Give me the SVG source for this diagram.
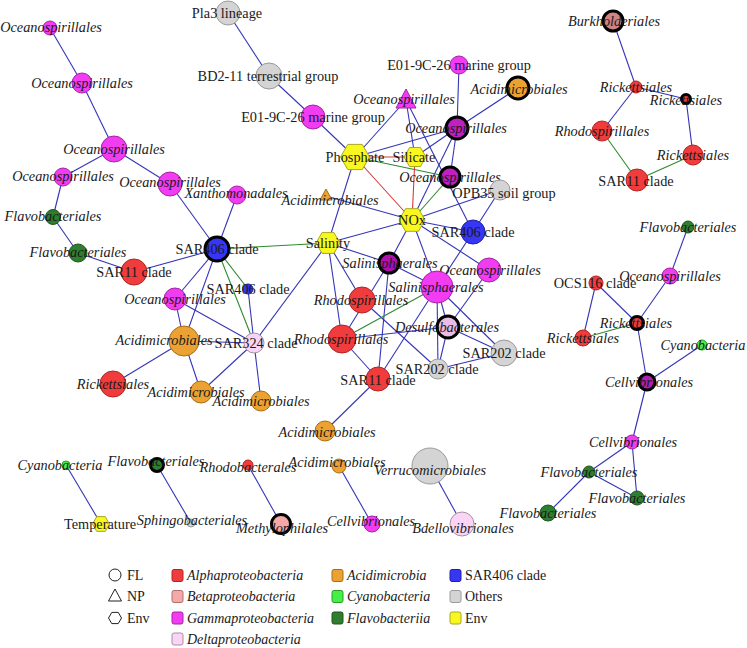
<svg xmlns="http://www.w3.org/2000/svg" width="747" height="648" viewBox="0 0 747 648">
<style>
.e{stroke:#3535b8;stroke-width:1.1;fill:none}
.eg{stroke:#2e8a2e;stroke-width:1.1;fill:none}
.er{stroke:#d43c3c;stroke-width:1.1;fill:none}
text{font-family:"Liberation Serif","Times New Roman",serif;font-size:14.3px;text-anchor:middle;fill:#1a1a1a}
.i{font-style:italic}
.lg{font-size:14px;text-anchor:start}
.alpha{fill:#f03c3c;stroke:#b02424}
.beta{fill:#f4a8a8;stroke:#b07070}
.gamma{fill:#f23cf2;stroke:#a424a4}
.gdark{fill:#c020c0;stroke:#000;stroke-width:3}
.delta{fill:#fad4f4;stroke:#a890a4}
.acid{fill:#eba233;stroke:#a86e14}
.cyan{fill:#48ee48;stroke:#22a022}
.flavo{fill:#2f7d2f;stroke:#1c561c}
.sar{fill:#3636f4;stroke:#2020a0}
.other{fill:#d4d4d4;stroke:#9a9a9a}
.env{fill:#f8f820;stroke:#a8a820}
.bk{stroke:#000;stroke-width:3}
</style>
<rect width="747" height="648" fill="#fff"/>
<g id="edges">
<line class="e" x1="50" y1="28" x2="82" y2="83"/>
<line class="e" x1="82" y1="83" x2="114" y2="149"/>
<line class="e" x1="114" y1="149" x2="63" y2="177"/>
<line class="e" x1="114" y1="149" x2="170" y2="184"/>
<line class="e" x1="63" y1="177" x2="53" y2="217"/>
<line class="e" x1="53" y1="217" x2="78" y2="253"/>
<line class="e" x1="78" y1="253" x2="134" y2="272"/>
<line class="e" x1="134" y1="272" x2="217" y2="249"/>
<line class="e" x1="170" y1="184" x2="217" y2="249"/>
<line class="e" x1="237" y1="195" x2="217" y2="249"/>
<line class="e" x1="217" y1="249" x2="175" y2="299"/>
<line class="e" x1="217" y1="249" x2="184" y2="341"/>
<line class="e" x1="175" y1="299" x2="184" y2="341"/>
<line class="e" x1="175" y1="299" x2="254" y2="343"/>
<line class="e" x1="248" y1="289" x2="254" y2="343"/>
<line class="e" x1="184" y1="341" x2="254" y2="343"/>
<line class="e" x1="184" y1="341" x2="113" y2="384"/>
<line class="e" x1="184" y1="341" x2="201" y2="392"/>
<line class="e" x1="201" y1="392" x2="254" y2="343"/>
<line class="e" x1="254" y1="343" x2="261" y2="401"/>
<line class="e" x1="254" y1="343" x2="328" y2="243"/>
<line class="e" x1="228" y1="13" x2="269" y2="76"/>
<line class="e" x1="269" y1="76" x2="313" y2="117"/>
<line class="e" x1="313" y1="117" x2="355" y2="157"/>
<line class="e" x1="459" y1="65" x2="457" y2="128"/>
<line class="e" x1="518" y1="88" x2="457" y2="128"/>
<line class="e" x1="355" y1="157" x2="406" y2="100"/>
<line class="e" x1="415" y1="157" x2="406" y2="100"/>
<line class="e" x1="355" y1="157" x2="457" y2="128"/>
<line class="e" x1="415" y1="157" x2="457" y2="128"/>
<line class="e" x1="457" y1="128" x2="450" y2="177"/>
<line class="e" x1="457" y1="128" x2="412" y2="220"/>
<line class="e" x1="406" y1="100" x2="473" y2="232"/>
<line class="e" x1="328" y1="243" x2="355" y2="157"/>
<line class="e" x1="500" y1="190" x2="412" y2="220"/>
<line class="e" x1="500" y1="190" x2="473" y2="232"/>
<line class="e" x1="412" y1="220" x2="473" y2="232"/>
<line class="e" x1="412" y1="220" x2="326" y2="196"/>
<line class="e" x1="412" y1="220" x2="328" y2="243"/>
<line class="e" x1="412" y1="220" x2="389" y2="263"/>
<line class="e" x1="412" y1="220" x2="437" y2="287"/>
<line class="e" x1="412" y1="220" x2="489" y2="270"/>
<line class="e" x1="328" y1="243" x2="389" y2="263"/>
<line class="e" x1="328" y1="243" x2="362" y2="300"/>
<line class="e" x1="328" y1="243" x2="342" y2="339"/>
<line class="e" x1="389" y1="263" x2="437" y2="287"/>
<line class="e" x1="389" y1="263" x2="378" y2="379"/>
<line class="e" x1="389" y1="263" x2="342" y2="339"/>
<line class="e" x1="473" y1="232" x2="437" y2="287"/>
<line class="e" x1="489" y1="270" x2="448" y2="327"/>
<line class="e" x1="437" y1="287" x2="448" y2="327"/>
<line class="e" x1="437" y1="287" x2="438" y2="369"/>
<line class="e" x1="437" y1="287" x2="378" y2="379"/>
<line class="e" x1="437" y1="287" x2="504" y2="353"/>
<line class="e" x1="362" y1="300" x2="438" y2="369"/>
<line class="e" x1="448" y1="327" x2="342" y2="339"/>
<line class="e" x1="448" y1="327" x2="438" y2="369"/>
<line class="e" x1="448" y1="327" x2="504" y2="353"/>
<line class="e" x1="504" y1="353" x2="438" y2="369"/>
<line class="e" x1="342" y1="339" x2="378" y2="379"/>
<line class="e" x1="378" y1="379" x2="325" y2="431"/>
<line class="e" x1="613" y1="21" x2="636" y2="87"/>
<line class="e" x1="636" y1="87" x2="686" y2="99"/>
<line class="e" x1="636" y1="87" x2="602" y2="131"/>
<line class="e" x1="686" y1="99" x2="693" y2="155"/>
<line class="e" x1="688" y1="227" x2="670" y2="276"/>
<line class="e" x1="670" y1="276" x2="637" y2="323"/>
<line class="e" x1="596" y1="283" x2="637" y2="323"/>
<line class="e" x1="596" y1="283" x2="583" y2="338"/>
<line class="e" x1="637" y1="323" x2="647" y2="382"/>
<line class="e" x1="702" y1="345" x2="647" y2="382"/>
<line class="e" x1="647" y1="382" x2="632" y2="442"/>
<line class="e" x1="632" y1="442" x2="589" y2="472"/>
<line class="e" x1="632" y1="442" x2="637" y2="498"/>
<line class="e" x1="589" y1="472" x2="637" y2="498"/>
<line class="e" x1="589" y1="472" x2="548" y2="513"/>
<line class="e" x1="66" y1="465" x2="101" y2="524"/>
<line class="e" x1="157" y1="465" x2="191" y2="523"/>
<line class="e" x1="248" y1="465" x2="281" y2="524"/>
<line class="e" x1="339" y1="466" x2="372" y2="524"/>
<line class="e" x1="430" y1="466" x2="462" y2="524"/>
<line class="eg" x1="217" y1="249" x2="328" y2="243"/>
<line class="eg" x1="217" y1="249" x2="248" y2="289"/>
<line class="eg" x1="217" y1="249" x2="254" y2="343"/>
<line class="eg" x1="355" y1="157" x2="450" y2="177"/>
<line class="eg" x1="450" y1="177" x2="412" y2="220"/>
<line class="eg" x1="602" y1="131" x2="637" y2="180"/>
<line class="eg" x1="637" y1="180" x2="693" y2="155"/>
<line class="eg" x1="583" y1="338" x2="637" y2="323"/>
<line class="eg" x1="437" y1="287" x2="342" y2="339"/>
<line class="er" x1="355" y1="157" x2="415" y2="157"/>
<line class="er" x1="355" y1="157" x2="412" y2="220"/>
<line class="er" x1="415" y1="157" x2="412" y2="220"/>
</g>
<g id="n1"><circle class="gamma" cx="50" cy="28" r="7"/><text class="i" x="51" y="32">Oceanospirillales</text></g>
<g id="n2"><circle class="gamma" cx="82" cy="83" r="10"/><text class="i" x="82" y="88">Oceanospirillales</text></g>
<g id="n3"><circle class="gamma" cx="114" cy="149" r="13"/><text class="i" x="114" y="154">Oceanospirillales</text></g>
<g id="n4"><circle class="gamma" cx="63" cy="177" r="9"/><text class="i" x="63" y="181">Oceanospirillales</text></g>
<g id="n5"><circle class="gamma" cx="170" cy="184" r="12"/><text class="i" x="170" y="187">Oceanospirillales</text></g>
<g id="n6"><circle class="gamma" cx="237" cy="195" r="9"/><text class="i" x="236" y="198">Xanthomonadales</text></g>
<g id="n7"><circle class="flavo" cx="53" cy="217" r="7.5"/><text class="i" x="53" y="221">Flavobacteriales</text></g>
<g id="n8"><circle class="flavo" cx="78" cy="253" r="9"/><text class="i" x="78" y="257">Flavobacteriales</text></g>
<g id="n9"><circle class="alpha" cx="134" cy="272" r="13"/><text x="134" y="277">SAR11 clade</text></g>
<g id="n10"><circle class="sar bk" cx="217" cy="249" r="12"/><text x="217" y="254">SAR406 clade</text></g>
<g id="n11"><circle class="sar" cx="248" cy="289" r="5"/><text x="248" y="294">SAR406 clade</text></g>
<g id="n12"><circle class="gamma" cx="175" cy="299" r="11"/><text class="i" x="175" y="304">Oceanospirillales</text></g>
<g id="n13"><circle class="acid" cx="184" cy="341" r="15"/><text class="i" x="164" y="345">Acidimicrobiales</text></g>
<g id="n14"><circle class="delta" cx="254" cy="343" r="10"/><text x="256" y="348">SAR324 clade</text></g>
<g id="n15"><circle class="alpha" cx="113" cy="384" r="13"/><text class="i" x="113" y="389">Rickettsiales</text></g>
<g id="n16"><circle class="acid" cx="201" cy="392" r="11"/><text class="i" x="196" y="397">Acidimicrobiales</text></g>
<g id="n17"><circle class="acid" cx="261" cy="401" r="10"/><text class="i" x="261" y="406">Acidimicrobiales</text></g>
<g id="n18"><circle class="other" cx="228" cy="13" r="12"/><text x="227" y="18">Pla3 lineage</text></g>
<g id="n19"><circle class="other" cx="269" cy="76" r="13"/><text x="268" y="81">BD2-11 terrestrial group</text></g>
<g id="n20"><circle class="gamma" cx="313" cy="117" r="12"/><text x="313" y="122">E01-9C-26 marine group</text></g>
<g id="n21"><circle class="gamma" cx="459" cy="65" r="9"/><text x="459" y="70">E01-9C-26 marine group</text></g>
<g id="n22"><polygon class="gamma" points="406,89 396,108 416,108"/><text class="i" x="404" y="104">Oceanospirillales</text></g>
<g id="n23"><polygon class="env" points="340.5,157 347.75,144.4 362.25,144.4 369.5,157 362.25,169.6 347.75,169.6"/><text x="355" y="162">Phosphate</text></g>
<g id="n24"><polygon class="env" points="404,157 409.5,147.5 420.5,147.5 426,157 420.5,166.5 409.5,166.5"/><text x="414" y="162">Silicate</text></g>
<g id="n25"><polygon class="acid" points="326,189 320,200 332,200"/><text class="i" x="330" y="205">Acidimicrobiales</text></g>
<g id="n26"><circle class="gdark" cx="457" cy="128" r="11"/><text class="i" x="456" y="133">Oceanospirillales</text></g>
<g id="n27"><circle class="gdark" cx="450" cy="177" r="10"/><text class="i" x="450" y="182">Oceanospirillales</text></g>
<g id="n28"><circle class="acid bk" cx="518" cy="88" r="11"/><text class="i" x="519" y="94">Acidimicrobiales</text></g>
<g id="n29"><circle class="other" cx="500" cy="190" r="10"/><text x="504" y="198">OPB35 soil group</text></g>
<g id="n30"><polygon class="env" points="399,220 405.5,208.7 418.5,208.7 425,220 418.5,231.3 405.5,231.3"/><text x="412" y="225">NOx</text></g>
<g id="n31"><polygon class="env" points="316,243 322,232.6 334,232.6 340,243 334,253.4 322,253.4"/><text x="328" y="248">Salinity</text></g>
<g id="n32"><circle class="sar" cx="473" cy="232" r="12"/><text x="473" y="237">SAR406 clade</text></g>
<g id="n33"><circle class="gdark" cx="389" cy="263" r="10" style="fill:#b010b0"/><text class="i" x="390" y="268">Salinisphaerales</text></g>
<g id="n34"><circle class="gamma" cx="489" cy="270" r="12"/><text class="i" x="490" y="275">Oceanospirillales</text></g>
<g id="n35"><circle class="gamma" cx="437" cy="287" r="16"/><text class="i" x="436" y="292">Salinisphaerales</text></g>
<g id="n36"><circle class="alpha" cx="362" cy="300" r="13"/><text class="i" x="361" y="305">Rhodospirillales</text></g>
<g id="n37"><circle class="delta bk" cx="448" cy="327" r="11" style="fill:#e8bce4"/><text class="i" x="447" y="332">Desulfobacterales</text></g>
<g id="n38"><circle class="alpha" cx="342" cy="339" r="14"/><text class="i" x="341" y="344">Rhodospirillales</text></g>
<g id="n39"><circle class="other" cx="504" cy="353" r="13"/><text x="504" y="358">SAR202 clade</text></g>
<g id="n40"><circle class="other" cx="438" cy="369" r="10"/><text x="437" y="374">SAR202 clade</text></g>
<g id="n41"><circle class="alpha" cx="378" cy="379" r="12"/><text x="378" y="385">SAR11 clade</text></g>
<g id="n42"><circle class="acid" cx="325" cy="431" r="10"/><text class="i" x="327" y="437">Acidimicrobiales</text></g>
<g id="n43"><circle class="beta bk" cx="613" cy="21" r="10" style="fill:#d08484"/><text class="i" x="614" y="26">Burkholderiales</text></g>
<g id="n44"><circle class="alpha" cx="636" cy="87" r="6"/><text class="i" x="636" y="92">Rickettsiales</text></g>
<g id="n45"><circle class="alpha bk" cx="686" cy="99" r="4.5"/><text class="i" x="686" y="105">Rickettsiales</text></g>
<g id="n46"><circle class="alpha" cx="602" cy="131" r="10"/><text class="i" x="602" y="136">Rhodospirillales</text></g>
<g id="n47"><circle class="alpha" cx="693" cy="155" r="10"/><text class="i" x="693" y="160">Rickettsiales</text></g>
<g id="n48"><circle class="alpha" cx="637" cy="180" r="11"/><text x="636" y="186">SAR11 clade</text></g>
<g id="n49"><circle class="flavo" cx="688" cy="227" r="6"/><text class="i" x="688" y="232">Flavobacteriales</text></g>
<g id="n50"><circle class="gamma" cx="670" cy="276" r="8"/><text class="i" x="670" y="281">Oceanospirillales</text></g>
<g id="n51"><circle class="alpha" cx="596" cy="283" r="7"/><text x="595" y="288">OCS116 clade</text></g>
<g id="n52"><circle class="alpha bk" cx="637" cy="323" r="6.5"/><text class="i" x="636" y="328">Rickettsiales</text></g>
<g id="n53"><circle class="alpha" cx="583" cy="338" r="8"/><text class="i" x="583" y="343">Rickettsiales</text></g>
<g id="n54"><circle class="cyan" cx="702" cy="345" r="5"/><text class="i" x="703" y="350">Cyanobacteria</text></g>
<g id="n55"><circle class="gdark" cx="647" cy="382" r="8" style="fill:#b020b0"/><text class="i" x="649" y="387">Cellvibrionales</text></g>
<g id="n56"><circle class="gamma" cx="632" cy="442" r="7"/><text class="i" x="633" y="447">Cellvibrionales</text></g>
<g id="n57"><circle class="flavo" cx="589" cy="472" r="6"/><text class="i" x="589" y="477">Flavobacteriales</text></g>
<g id="n58"><circle class="flavo" cx="637" cy="498" r="7"/><text class="i" x="637" y="503">Flavobacteriales</text></g>
<g id="n59"><circle class="flavo" cx="548" cy="513" r="8"/><text class="i" x="548" y="518">Flavobacteriales</text></g>
<g id="n60"><circle class="cyan" cx="66" cy="465" r="4"/><text class="i" x="60" y="470">Cyanobacteria</text></g>
<g id="n61"><polygon class="env" points="92.5,524 96.75,516.6 105.25,516.6 109.5,524 105.25,531.4 96.75,531.4"/><text x="100" y="529">Temperature</text></g>
<g id="n62"><circle class="flavo bk" cx="157" cy="465" r="6.5"/><text class="i" x="156" y="466">Flavobacteriales</text></g>
<g id="n63"><circle class="other" cx="191" cy="523" r="4"/><text class="i" x="192" y="525">Sphingobacteriales</text></g>
<g id="n64"><circle class="alpha" cx="248" cy="465" r="5"/><text class="i" x="248" y="472">Rhodobacterales</text></g>
<g id="n65"><circle class="beta bk" cx="281" cy="524" r="9.5"/><text class="i" x="282" y="533">Methylophilales</text></g>
<g id="n66"><circle class="acid" cx="339" cy="466" r="7"/><text class="i" x="337" y="467">Acidimicrobiales</text></g>
<g id="n67"><circle class="gamma" cx="372" cy="524" r="8"/><text class="i" x="371" y="526">Cellvibrionales</text></g>
<g id="n68"><circle class="other" cx="430" cy="466" r="18"/><text class="i" x="430" y="475">Verrucomicrobiales</text></g>
<g id="n69"><circle class="delta" cx="462" cy="524" r="12"/><text class="i" x="463" y="533">Bdellovibrionales</text></g>
<g id="legend">
<circle cx="115" cy="575" r="6" fill="#fff" stroke="#222"/>
<polygon points="115,589 108.5,601 121.5,601" fill="#fff" stroke="#222"/>
<polygon points="108.5,618 111.75,612.4 118.25,612.4 121.5,618 118.25,623.6 111.75,623.6" fill="#fff" stroke="#222"/>
<text class="lg" x="127" y="580">FL</text>
<text class="lg" x="127" y="601">NP</text>
<text class="lg" x="127" y="623">Env</text>
<rect class="alpha" x="172" y="569.5" width="11" height="12" rx="2"/>
<rect class="beta" x="172" y="590.5" width="11" height="12" rx="2"/>
<rect class="gamma" x="172" y="612" width="11" height="12" rx="2"/>
<rect class="delta" x="172" y="633" width="11" height="12" rx="2"/>
<text class="lg i" x="187" y="580">Alphaproteobacteria</text>
<text class="lg i" x="187" y="601">Betaproteobacteria</text>
<text class="lg i" x="187" y="623">Gammaproteobacteria</text>
<text class="lg i" x="187" y="644">Deltaproteobacteria</text>
<rect class="acid" x="332" y="569.5" width="11" height="12" rx="2"/>
<rect class="cyan" x="332" y="590.5" width="11" height="12" rx="2"/>
<rect class="flavo" x="332" y="612" width="11" height="12" rx="2"/>
<text class="lg i" x="347" y="580">Acidimicrobia</text>
<text class="lg i" x="347" y="601">Cyanobacteria</text>
<text class="lg i" x="347" y="623">Flavobacteriia</text>
<rect class="sar" x="450" y="569.5" width="11" height="12" rx="2"/>
<rect class="other" x="450" y="590.5" width="11" height="12" rx="2"/>
<rect class="env" x="450" y="612" width="11" height="12" rx="2"/>
<text class="lg" x="465" y="580">SAR406 clade</text>
<text class="lg" x="465" y="601">Others</text>
<text class="lg" x="465" y="623">Env</text>
</g>
</svg>
